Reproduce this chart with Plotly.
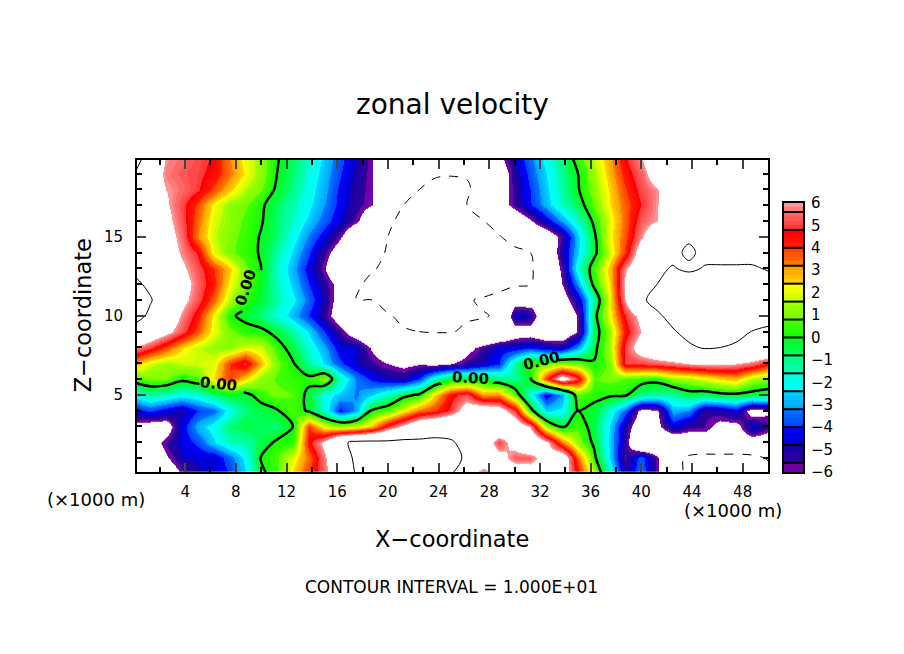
import numpy as np
import plotly.graph_objects as go

# grid of the field, km
x_km = [0, 1.25, 2.5, 3.75, 5, 6.25, 7.5, 8.75, 10, 11.25, 12.5, 13.75, 15, 16.25, 17.5, 18.75, 20, 21.25, 22.5, 23.75,
        25, 26.25, 27.5, 28.75, 30, 31.25, 32.5, 33.75, 35, 36.25, 37.5, 38.75, 40, 41.25, 42.5, 43.75, 45, 46.25, 47.5, 48.75, 50]
z_km = [20, 19, 18, 17, 16, 15, 14, 13, 12, 11, 10, 9, 8, 7, 6, 5, 4, 3, 2, 1, 0]

# zonal velocity, top row first
u_ms = [
    [12,8,5.9,5.5,5.1,4.7,3.2,2.1,1.2,.1,-.7,-1.6,-2.6,-3.7,-4.8,-5.9,-7.5,-8,-8.5,-9,-9,-9,-8.5,-6.4,-4.7,-3.4,-2.1,-.9,.5,1.7,3,4.7,5.9,7.5,8,8.5,8.5,8.5,8,8,8],
    [10,7,5.7,5.3,5,4.5,3.4,2.3,1.2,0,-.8,-1.8,-2.8,-3.9,-5,-5.9,-8,-9,-9.5,-9.8,-9.8,-9.8,-9,-7.2,-5.2,-3.7,-2.4,-1.1,0,1.4,2.8,4.3,5.4,7,8,8,8.5,8.5,8,8,8],
    [9,7,6,5.5,4.9,3.8,2.6,1.6,.9,-.2,-1,-2,-3,-4.2,-5.2,-5.9,-8,-9.5,-10,-10.5,-11,-10.3,-9,-7,-5.3,-4,-2.6,-1.3,-.1,1.2,2.5,3.9,5.1,5.9,7.5,8,8.5,8.5,8,8,8],
    [9,7.5,6.2,5.1,3.8,2.2,1.2,.9,.2,-.7,-1.4,-2.2,-3.2,-4.3,-5.3,-6,-8.5,-10,-11,-11,-11,-10,-8.5,-7,-5.4,-4.1,-2.8,-1.5,-.6,.9,2.4,3.6,4.8,5.9,7.5,8,8.5,8.5,8.5,8,8],
    [9.5,8,6.5,5.2,3.5,1.9,1.2,.7,.1,-.8,-1.6,-2.6,-3.6,-4.6,-5.7,-7.5,-9.5,-10.7,-11.5,-12,-12,-11,-10.1,-9,-7.5,-6.2,-4.5,-3,-1.5,.2,2,3.5,5.3,6,7.5,8.5,8.5,8.5,8.5,8.5,8.5],
    [9,8,6.8,5.5,3.2,1.7,1,.6,-.1,-.8,-2,-3.3,-4.5,-5.8,-8,-9.5,-10,-11,-12,-12.5,-12.5,-12,-11,-10.2,-9,-8,-7.5,-5.5,-2.6,-.3,2.2,3.7,5.8,7.5,8.5,9.5,8.5,8,8,8,8],
    [8.5,8,7,5.8,4.7,2,1,.4,-.1,-1.3,-2.5,-3.9,-5.5,-7,-8.5,-9.6,-10.1,-11,-12,-12.5,-13,-12.5,-11.5,-11,-10.6,-10,-8,-5,-2.5,-.4,1.8,4,7,8.5,9.2,10.6,9.2,9,9,9,9],
    [9.5,8.5,7.5,6.3,5.2,4,2.6,1,0,-1.6,-2.9,-4.4,-6,-8,-9,-9.8,-10.5,-11.5,-12.5,-13,-13,-13,-12,-11.5,-11,-10.3,-8.5,-5.6,-1.7,.6,2.8,5.8,7.5,9.5,10.2,9.4,10.2,10.3,10.3,10.3,9.8],
    [10.5,9.5,8.5,6.8,5.4,4.2,2.2,1,-.2,-1.5,-2.6,-4,-5.3,-6.5,-9.6,-10.6,-11.5,-12,-13,-13.5,-13,-13,-12,-11,-10.5,-10.1,-8.5,-6,-3,.3,2.5,6.2,8.5,10,11,12,12.5,12,12,11.5,11],
    [11.5,10.2,8.5,6.5,5.2,3.6,1.6,.4,-.3,-1.3,-2.2,-3.5,-5,-6.8,-10,-10,-11,-12,-13,-13.5,-13,-10.3,-9.6,-9,-7,-7,-7,-7,-4.7,-1.3,2.2,6,9.5,11,12,13,13,12.5,12.5,12,11.5],
    [11,9.5,7.5,5.8,4.3,2.2,.2,-.3,-1,-1.8,-2.8,-4,-5.4,-7,-9.2,-9,-9.8,-10.5,-11.5,-11,-10.4,-10.2,-10.2,-9.7,-4.5,-4.8,-8,-8,-5.8,-.5,2.2,4.8,6.5,9.5,11,13,13.5,13,13,12.5,12],
    [9,7.5,6.5,5.2,3.7,2,1,.4,.3,-.4,-1.2,-2.5,-4,-5.5,-7,-8,-9,-9.8,-10,-10.1,-10.1,-9.7,-9,-8.5,-7,-6.9,-7.5,-7.5,-5.9,-.7,1.3,4.3,6,8.5,9.7,11,12,12,11,9.9,9],
    [5.9,5,3.8,2.5,1.7,1.3,1.2,2,1.8,.5,-.5,-1.8,-3,-4.5,-4.6,-6.2,-7.5,-8,-8.5,-8.5,-8.2,-6.5,-5.5,-4.5,-4.5,-4,-4.7,-4.8,-3,-.4,1.5,5,7,8,8.5,9.5,10.3,10,9.5,9,8.5],
    [3,1.8,1.4,1.7,1.8,2,4,5,2.8,1,.1,-1.2,-2.5,-3.8,-4.8,-5.4,-6,-6.4,-6.1,-6.4,-6,-5.4,-4.8,-4,-1.2,.6,1,1.4,1,.1,1,5,5,5.3,5.6,6,6.2,6.2,6,5.5,4.5],
    [.6,1,1,.3,.7,2.5,4,2.5,1.2,.7,.4,.3,1.4,-1.5,-3.2,-4.2,-4.8,-5,-3.8,-1.5,-.2,-.3,-.2,-1,-1.2,-.1,4,7,5,.8,1,.8,.5,.4,1.3,1.5,2,2.5,2.8,1.5,1],
    [-2,-1.2,-1.5,-2,-1.7,-.9,-.2,-.4,.6,1,.8,-.3,-2,-2.6,-3.3,-2.5,-1.5,-.4,.2,2.5,4.5,5.2,3,3.2,.8,-1.8,-4.5,-3,.8,.3,.2,.2,-1,-1.3,-1.3,-.5,-.6,-.3,-.2,-.4,-.6],
    [-4.5,-3.8,-4.5,-5,-4,-3.5,-2,-.9,-.6,-.1,.8,-.2,-1.8,-4.2,-3,.2,.7,2.2,3.5,4,5,7,7.5,7,5,.5,-2.5,-2.2,0,-.3,-1.8,-3.5,-6.5,-6.2,-2.8,-3.2,-5.5,-5.2,-4.4,-6.8,-6.2],
    [-6.5,-7,-7,-4.4,-2.8,-2,-.8,-.5,-.7,-.9,0,4,2,1.5,1.8,2.8,5,6.5,8,8.5,9,8.5,8.5,8,7.5,6,1.5,-.2,.7,-.5,-2.5,-5,-7.5,-6.5,-4.5,-5.4,-5.6,-6.5,-6.6,-4.5,-5.5],
    [-8,-7,-5.5,-4.5,-3.8,-2.5,-1.5,-1.3,-.6,.2,.4,4.5,6.5,9.5,10.5,10.6,10.5,10.7,10.5,10.6,10.2,9.3,7.5,5,6.8,8,6.5,3.5,1.2,-.2,-2.6,-5.2,-9,-8,-8,-7.5,-7,-6.8,-7,-7,-7],
    [-8.5,-8,-6.2,-4.8,-4.6,-4.7,-3.5,-2.2,.1,.7,2,3.5,5.8,8.5,10.5,11,11,11,11.5,11,11,9.5,8,6.8,5.3,5.4,6.8,7.5,3.5,.4,-2.5,-5.7,-3.5,-5.8,-9,-10.5,-11,-11,-11,-10.7,-9.8],
    [-9,-8.5,-7.5,-5.9,-5,-4.5,-4,-2.5,-.3,.6,2.5,4,5.5,8,10.2,11,11,11,11,11,10.2,6.4,5,7,7.5,7,7,7,4.5,1.5,-1.5,-5,-3.3,-5.8,-9,-10.5,-11,-11,-11,-11,-11],
]

# grid points (row from top, column) where the zero contour breaks for its labels
label_gaps = [(8, 7), (8, 8), (9, 7), (9, 8), (14, 5), (14, 6), (15, 5), (15, 6),
              (14, 20), (14, 21), (14, 22), (13, 25), (13, 26)]

# colour bar
cbar_ticks = [6, 5, 4, 3, 2, 1, 0, -1, -2, -3, -4, -5, -6]
cbar_edges = [5.6, 4.8, 4, 3.2, 2.4, 1.6, 0.8, 0, -0.8, -1.6, -2.4, -3.2, -4, -4.8, -5.6]
color_vals = [6, 5.6, 4.8, 4.7, 4, 3.95, 3.2, 3.1, 2.4, 2.3, 1.6, 1.5, .8, .7, 0, -.1, -.8, -.9, -1.6, -1.7, -2.4, -2.5, -3.2, -3.3, -4, -4.1, -4.8, -4.9, -5.6, -5.7, -6]
color_hex = ['#ffa0a0', '#ff7070', '#ff3030', '#ff0000', '#ff2000', '#ff4000', '#ff8000', '#ffa000', '#ffd800', '#ffff00',
             '#c0ff00', '#a0ff00', '#70ff00', '#40ff00', '#10ff00', '#00ff20', '#00ff60', '#00ff80', '#00ffc0', '#00ffe0',
             '#00ffff', '#00d0ff', '#00a0ff', '#0070ff', '#0040ff', '#0000ff', '#0000d0', '#1800a8', '#300098', '#7000a8', '#7000a8']

ZLIM = 15
FONT = 'DejaVu Sans'
W, H = 904, 654


def px_x(p):
    return p / W


def px_y(p):
    return 1 - p / H


def band_color(v):
    rgb = [int(h[i:i + 2], 16) for h in color_hex for i in (1, 3, 5)]
    rgb = np.array(rgb).reshape(-1, 3)
    order = np.argsort(color_vals)
    vals = np.array(color_vals)[order]
    return 'rgb(%d,%d,%d)' % tuple(np.interp(v, vals, rgb[order, c]) for c in range(3))


# stepped scale, white outside +-6
bands = np.arange(-6, 6.01, 0.2)
scale = [[0, 'white'], [(bands[0] + ZLIM) / (2 * ZLIM), 'white']]
for lo, hi in zip(bands[:-1], bands[1:]):
    c = band_color((lo + hi) / 2)
    scale.append([(lo + ZLIM) / (2 * ZLIM), c])
    scale.append([(hi + ZLIM) / (2 * ZLIM), c])
scale.append([(bands[-1] + ZLIM) / (2 * ZLIM), 'white'])
scale.append([1, 'white'])

y_km = z_km[::-1]
rows = u_ms[::-1]
gapped = [list(r) for r in u_ms]
for r, c in label_gaps:
    gapped[r][c] = None
gapped = gapped[::-1]

fig = go.Figure()
fig.add_trace(go.Heatmap(x=x_km, y=y_km, z=rows, zmin=-ZLIM, zmax=ZLIM, colorscale=scale, zsmooth='best',
                         showscale=False, hoverinfo='skip'))


def contour_line(z, level, width, dash='solid'):
    return go.Contour(x=x_km, y=y_km, z=z, autocontour=False, showscale=False, hoverinfo='skip',
                      contours=dict(start=level, end=level, size=1, coloring='none'),
                      line=dict(color='black', width=width, dash=dash))


fig.add_trace(contour_line(rows, 10, 1))
fig.add_trace(contour_line(rows, -10, 1, 'dash'))
fig.add_trace(contour_line(gapped, 0, 2.5))

centers = (bands[:-1] + bands[1:]) / 2
fig.add_trace(go.Heatmap(x=[0], y=centers, z=[[c] for c in centers], zmin=-ZLIM, zmax=ZLIM, colorscale=scale,
                         showscale=False, hoverinfo='skip', xaxis='x2', yaxis='y2'))

shapes = [dict(type='line', xref='x2 domain', yref='y2', x0=0, x1=1, y0=e, y1=e, line=dict(color='black', width=2))
          for e in cbar_edges]

notes = [
    ('zonal velocity', 452, 98, 28, 0),
    ('X\u2212coordinate', 452, 545, 22.5, 0),
    ('Z\u2212coordinate', 83, 315, 22.5, -90),
    ('(\u00d71000 m)', 96, 504, 18, 0),
    ('(\u00d71000 m)', 733, 516, 18, 0),
    ('CONTOUR INTERVAL = 1.000E+01', 451, 594, 17, 0),
    # contour labels
    ('<b>0.00</b>', 246, 286, 15, -72),
    ('<b>0.00</b>', 218, 386, 15, 6),
    ('<b>0.00</b>', 470, 379, 15, 3),
    ('<b>0.00</b>', 541, 362, 15, -14),
]
annotations = [dict(text=t, x=px_x(x), y=px_y(y), xref='paper', yref='paper', showarrow=False, textangle=a,
                    xanchor='center', yanchor='middle', font=dict(family=FONT, size=s, color='black'))
               for t, x, y, s, a in notes]

fig.update_layout(
    width=W, height=H, margin=dict(l=0, r=0, t=0, b=0), paper_bgcolor='white', plot_bgcolor='white',
    font=dict(family=FONT, size=15, color='black'), showlegend=False, shapes=shapes, annotations=annotations,
    xaxis=dict(domain=[px_x(137), px_x(768)], range=[0.2, 50], tick0=0, dtick=4, ticks='inside', ticklen=9, tickwidth=2,
               showline=True, linewidth=2, linecolor='black', mirror='ticks', showgrid=False, zeroline=False,
               ticklabelstandoff=5,
               minor=dict(dtick=2, ticks='inside', ticklen=5, tickwidth=1.5, tickcolor='black')),
    yaxis=dict(domain=[px_y(476), px_y(155)], range=[0.125, 19.875], tick0=0, dtick=5, ticks='inside', ticklen=9, tickwidth=2,
               showline=True, linewidth=2, linecolor='black', mirror='ticks', showgrid=False, zeroline=False,
               ticklabelstandoff=9,
               minor=dict(dtick=1, ticks='inside', ticklen=5, tickwidth=1.5, tickcolor='black')),
    xaxis2=dict(domain=[px_x(784), px_x(803)], range=[-0.5, 0.5], showticklabels=False, ticks='', showgrid=False,
                zeroline=False, showline=True, linewidth=2, linecolor='black', mirror=True, anchor='y2'),
    yaxis2=dict(domain=[px_y(476), px_y(199.5)], range=[-6, 6], side='right', anchor='x2', tickvals=cbar_ticks,
                ticktext=[str(t).replace('-', '\u2212') for t in cbar_ticks], ticks='', showgrid=False, zeroline=False,
                showline=True, linewidth=2, linecolor='black', mirror=True, tickfont=dict(size=15), ticklabelstandoff=3),
)

# drop the default page margin so the plot sits at the window corner
fig.write_html("out.html", config={'displayModeBar': False},
               post_script="document.body.style.margin='0';document.body.style.overflow='hidden';")
